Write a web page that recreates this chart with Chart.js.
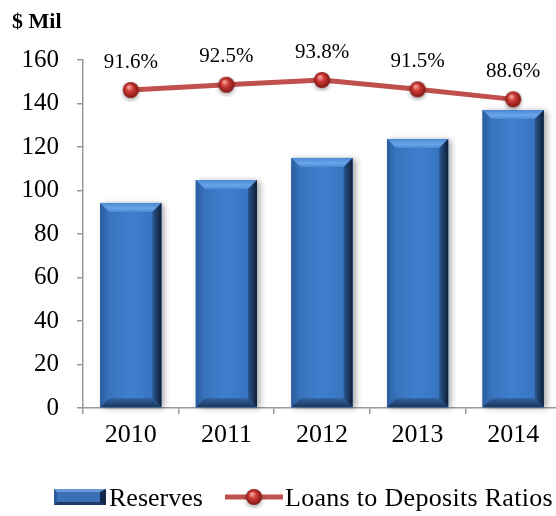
<!DOCTYPE html>
<html><head><meta charset="utf-8">
<script src="https://cdn.jsdelivr.net/npm/chart.js@4"></script>
<style>
html,body{margin:0;padding:0;background:#fff;overflow:hidden;}
#wrap{position:relative;width:556px;height:516px;overflow:hidden;}
#c{position:absolute;left:0;top:0;}
#title{position:absolute;left:12px;top:8px;font:bold 22px "Liberation Serif";line-height:26px;color:#000;}
.lg{position:absolute;top:483px;font:26px "Liberation Serif";line-height:30px;color:#000;white-space:nowrap;}
#bicon{position:absolute;left:54px;top:489px;width:43px;height:10px;background:#3a70b6;border-top:3px solid #6b9bd6;border-left:3px solid #2c5a98;border-right:6px solid #14294a;border-bottom:3px solid #1d3b66;}
#licon{position:absolute;left:225px;top:485px;}
</style></head>
<body><div id="wrap">
<canvas id="c" width="574" height="516"></canvas>
<div id="title">$ Mil</div>
<div id="bicon"></div><div class="lg" style="left:109px">Reserves</div>
<canvas id="licon" width="58" height="24"></canvas><div class="lg" style="left:285px;letter-spacing:0.3px">Loans to Deposits Ratios</div>
</div>
<script>
const categories = ['2010','2011','2012','2013','2014'];
const reserves = [94.3, 104.8, 115.0, 123.7, 137.0];
const loanLine = [146.2, 148.6, 150.8, 146.5, 141.9];
const ratioLabels = ['91.6%','92.5%','93.8%','91.5%','88.6%'];
const yTicks = [0,20,40,60,80,100,120,140,160];

function makeBall(){
  const c=document.createElement('canvas'); c.width=24; c.height=24;
  const x=c.getContext('2d');
  x.save();
  x.shadowColor='rgba(0,0,0,0.35)'; x.shadowBlur=4; x.shadowOffsetY=2;
  const g=x.createRadialGradient(10,9,1,12,12,8.5);
  g.addColorStop(0,'#f09a96'); g.addColorStop(0.35,'#cf3b35'); g.addColorStop(1,'#7a1412');
  x.fillStyle=g; x.beginPath(); x.arc(12,12,8,0,Math.PI*2); x.fill();
  x.restore();
  return c;
}
const ball = makeBall();

(function(){
  const lc=document.getElementById('licon').getContext('2d');
  lc.strokeStyle='#c0504d'; lc.lineWidth=5; lc.beginPath(); lc.moveTo(0,12); lc.lineTo(58,12); lc.stroke();
  lc.drawImage(ball,17,0);
})();

const barStyle = {
  id:'barStyle',
  beforeDatasetDraw(chart,args){
    if(args.index!==1) return;
    const ctx=chart.ctx;
    args.meta.data.forEach(el=>{
      const l=el.x-el.width/2, t=el.y, w=el.width, h=el.base-el.y;
      ctx.save();
      ctx.shadowColor='rgba(0,0,0,0.35)'; ctx.shadowBlur=6; ctx.shadowOffsetX=3; ctx.shadowOffsetY=1;
      ctx.fillStyle='#3b78c4'; ctx.fillRect(l,t,w,h);
      ctx.restore();
    });
  },
  afterDatasetDraw(chart,args){
    if(args.index!==1) return;
    const ctx=chart.ctx;
    args.meta.data.forEach(el=>{
      const l=el.x-el.width/2, t=el.y, r=l+el.width, b=el.base, bv=9;
      ctx.save();
      let g=ctx.createLinearGradient(l,0,r,0);
      g.addColorStop(0,'#3570bb'); g.addColorStop(0.5,'#3f7fcc'); g.addColorStop(1,'#3471bd');
      ctx.fillStyle=g; ctx.fillRect(l+bv,t+bv,r-l-2*bv,b-t-2*bv);
      g=ctx.createLinearGradient(0,t,0,t+bv);
      g.addColorStop(0,'#4d8ad6'); g.addColorStop(0.6,'#6aa4e8'); g.addColorStop(1,'#4c8ad6');
      ctx.fillStyle=g; ctx.beginPath(); ctx.moveTo(l,t); ctx.lineTo(r,t); ctx.lineTo(r-bv,t+bv); ctx.lineTo(l+bv,t+bv); ctx.closePath(); ctx.fill();
      g=ctx.createLinearGradient(l,0,l+bv,0);
      g.addColorStop(0,'#2b5c9e'); g.addColorStop(1,'#3873bf');
      ctx.fillStyle=g; ctx.beginPath(); ctx.moveTo(l,t); ctx.lineTo(l+bv,t+bv); ctx.lineTo(l+bv,b-bv); ctx.lineTo(l,b); ctx.closePath(); ctx.fill();
      g=ctx.createLinearGradient(r-bv,0,r,0);
      g.addColorStop(0,'#2a568f'); g.addColorStop(1,'#0f1e36');
      ctx.fillStyle=g; ctx.beginPath(); ctx.moveTo(r,t); ctx.lineTo(r,b); ctx.lineTo(r-bv,b-bv); ctx.lineTo(r-bv,t+bv); ctx.closePath(); ctx.fill();
      g=ctx.createLinearGradient(0,b-bv,0,b);
      g.addColorStop(0,'#2f619f'); g.addColorStop(1,'#1b365c');
      ctx.fillStyle=g; ctx.beginPath(); ctx.moveTo(l,b); ctx.lineTo(r,b); ctx.lineTo(r-bv,b-bv); ctx.lineTo(l+bv,b-bv); ctx.closePath(); ctx.fill();
      ctx.restore();
    });
  }
};

const labelPlugin = {
  id:'ratioLabels',
  afterDatasetsDraw(chart){
    const meta=chart.getDatasetMeta(0);
    const ctx=chart.ctx;
    ctx.save();
    ctx.font='21px "Liberation Serif"'; ctx.fillStyle='#000'; ctx.textAlign='center'; ctx.textBaseline='middle';
    meta.data.forEach((pt,i)=>{ ctx.fillText(ratioLabels[i], pt.x, pt.y-28); });
    ctx.restore();
  }
};

new Chart(document.getElementById('c'),{
  data:{
    labels:categories,
    datasets:[
      {type:'line',label:'Loans to Deposits Ratios',data:loanLine,borderColor:'#c0504d',borderWidth:5,
       pointStyle:ball,pointRadius:8,tension:0,order:0,fill:false},
      {type:'bar',label:'Reserves',data:reserves,backgroundColor:'#3b78c4',borderWidth:0,
       categoryPercentage:1,barPercentage:0.64,order:1}
    ]
  },
  options:{
    responsive:false,animation:false,
    layout:{padding:{top:60,bottom:58,left:0,right:0}},
    plugins:{legend:{display:false},tooltip:{enabled:false}},
    scales:{
      x:{
        grid:{display:true,drawOnChartArea:false,drawTicks:true,tickLength:6,color:'#999',offset:true,lineWidth:1.5},
        border:{display:true,color:'#999',width:1.5},
        ticks:{font:{family:'Liberation Serif',size:26},color:'#000',padding:6},
        afterFit(s){s.height=50;}
      },
      y:{
        min:0,max:160,
        afterBuildTicks(s){s.ticks=yTicks.map(v=>({value:v}));},
        grid:{display:true,drawOnChartArea:false,drawTicks:true,tickLength:6,color:'#999',lineWidth:1.5},
        border:{display:true,color:'#999',width:1.5},
        ticks:{font:{family:'Liberation Serif',size:25},color:'#000',padding:18},
        afterFit(s){s.width=83;}
      }
    }
  },
  plugins:[barStyle,labelPlugin]
});
</script>
</body></html>
